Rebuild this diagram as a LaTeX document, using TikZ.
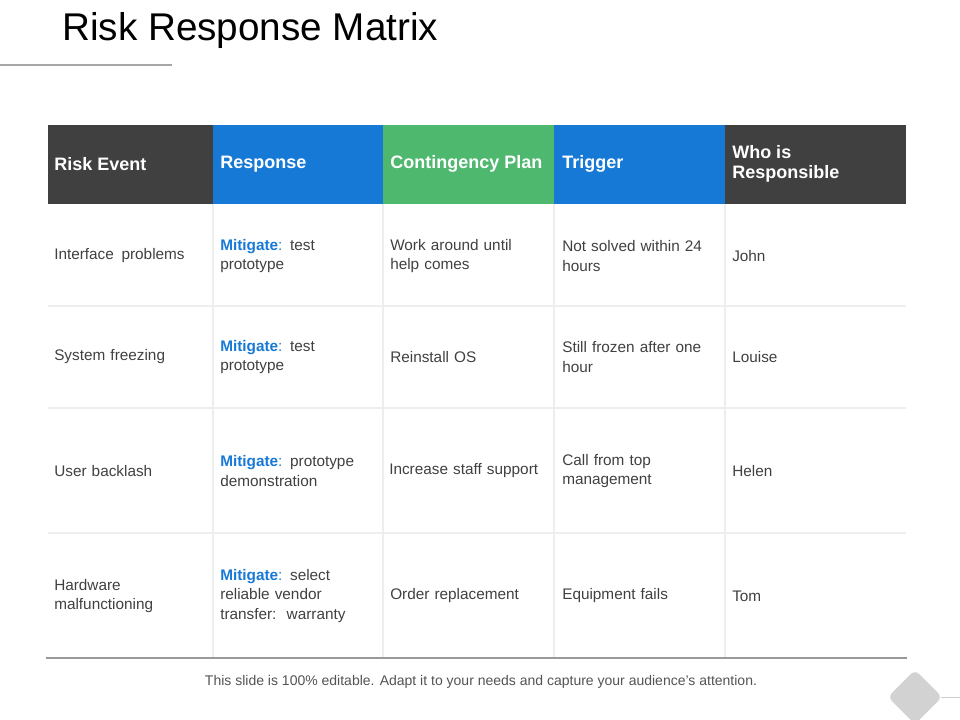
\documentclass[tikz,border=0pt]{standalone}
\usepackage{fontspec}
\setmainfont{Liberation Sans}
\usetikzlibrary{positioning}
\definecolor{hdark}{HTML}{404040}
\definecolor{hblue}{HTML}{1779D6}
\definecolor{hgreen}{HTML}{4DB86E}
\definecolor{txt}{HTML}{404040}
\definecolor{grid}{HTML}{EEEEEE}
\tikzset{
  hdr/.style={anchor=west,text=white,font=\fontsize{13.5}{15}\selectfont\bfseries,align=left,inner sep=0pt},
  cell/.style={anchor=west,text=txt,font=\fontsize{11.5}{14.5}\selectfont,align=left,inner sep=0pt,text width=#1},
  cell/.default=125pt,
  gridline/.style={draw=grid,line width=0.8pt}
}
\newcommand{\mitg}{\textcolor{hblue}{\textbf{Mitigate}:}}
\begin{document}
\begin{tikzpicture}[x=0.75pt,y=-0.75pt]
\useasboundingbox (0,0) rectangle (960,720);
\node[anchor=west,inner sep=0pt,font=\fontsize{29}{32}\selectfont,text=black] (title) at (62,31) {Risk Response Matrix};
\draw[line width=2.2pt,draw=gray!70] (0,65) coordinate (ul1) -- (172,65) coordinate (ul2);
% headers
\fill[hdark] (48,125) rectangle (213,204);
\fill[hblue] (213,125) rectangle (383,204);
\fill[hgreen] (383,125) rectangle (554,204);
\fill[hblue] (554,125) rectangle (725,204);
\fill[hdark] (725,125) rectangle (906,204);
\node[hdr] (h1) at (54,164) {Risk Event};
\node[hdr] (h2) at (220,164) {Response};
\node[hdr] (h3) at (390,164) {Contingency Plan};
\node[hdr] (h4) at (562,164) {Trigger};
\node[hdr] (h5) at (732,164) {Who is\\Responsible};
% grid
\foreach \x in {213,383,554,725} \draw[gridline] (\x,204) -- (\x,658);
\foreach \y in {306,408,533} \draw[gridline] (48,\y) -- (906,\y);
\draw[line width=1pt,draw=gray!80] (46,658) coordinate (b1) -- (907,658) coordinate (b2);
% rows
\node[cell] (r11) at (54,256) {Interface\, problems};
\node[cell] (r12) at (220,256) {\mitg{} test\\prototype};
\node[cell] (r13) at (390,256) {Work around until\\help comes};
\node[cell] (r14) at (562,256) {Not solved within 24\\hours};
\node[cell] (r15) at (732,256) {John};
\node[cell] (r21) at (54,357) {System freezing};
\node[cell] (r22) at (220,357) {\mitg{} test\\prototype};
\node[cell] (r23) at (390,357) {Reinstall OS};
\node[cell] (r24) at (562,357) {Still frozen after one\\hour};
\node[cell] (r25) at (732,357) {Louise};
\node[cell] (r31) at (54,471) {User backlash};
\node[cell] (r32) at (220,471) {\mitg{} prototype\\demonstration};
\node[cell=165pt] (r33) at (389,471) {Increase staff support};
\node[cell] (r34) at (562,471) {Call from top\\management};
\node[cell] (r35) at (732,471) {Helen};
\node[cell] (r41) at (54,596) {Hardware\\malfunctioning};
\node[cell] (r42) at (220,596) {\mitg{} select\\reliable vendor\\transfer:\, warranty};
\node[cell] (r43) at (390,596) {Order replacement};
\node[cell] (r44) at (562,596) {Equipment fails};
\node[cell] (r45) at (732,596) {Tom};
\node[inner sep=0pt,text=txt!90,font=\fontsize{10.5}{12}\selectfont] (foot) at (481,682) {This slide is 100\% editable. Adapt it to your needs and capture your audience's attention.};
% diamond
\coordinate (dstart) at (935,697);
\coordinate (dend) at (960,697);
\draw[draw=gray!40,line width=0.6pt] (dstart) -- (dend);
\node[fill=gray!35,draw=white,line width=1pt,rounded corners=5pt,minimum size=30pt,rotate=45,inner sep=0pt] (dia) at (915,697) {};
\end{tikzpicture}
\end{document}
